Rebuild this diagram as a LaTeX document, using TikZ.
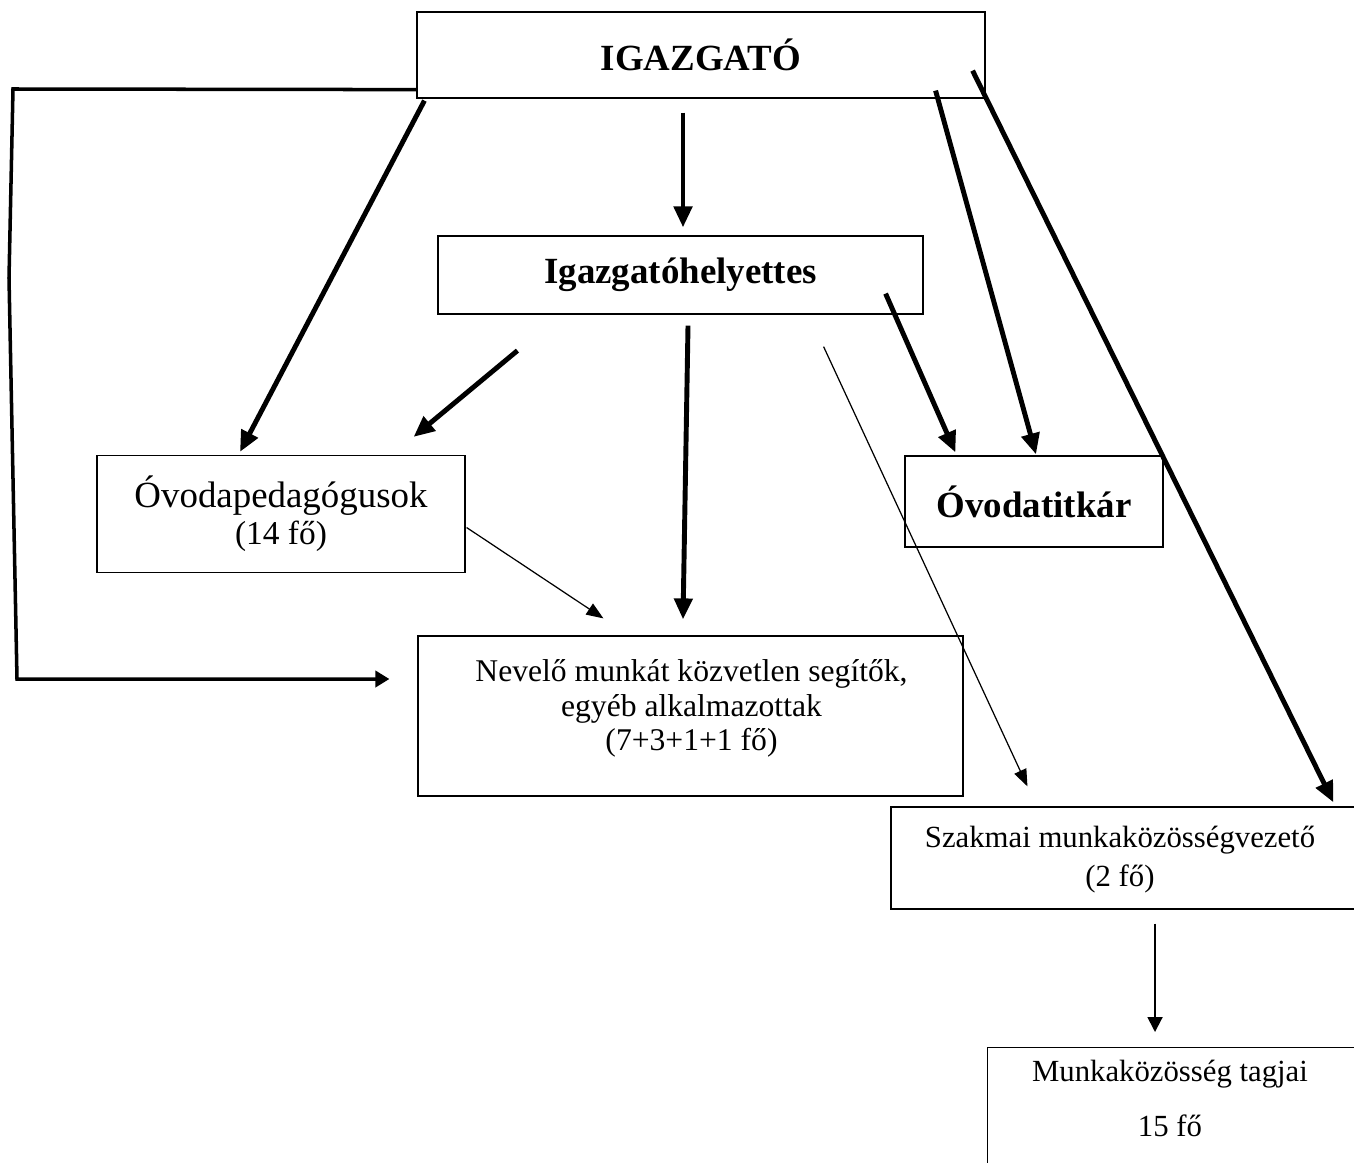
\documentclass[tikz,border=0pt]{standalone}
\usepackage{fontspec}
\setmainfont{Liberation Serif}
\usetikzlibrary{arrows.meta, calc}

\begin{document}
\begin{tikzpicture}[
    x=0.02cm, y=-0.02cm,
    box/.style={draw, line width=0.7pt, inner sep=0pt, align=center},
    boss/.style={font=\fontsize{21}{25}\selectfont\bfseries},
    fat/.style={-{Triangle[length=0.42cm, width=0.36cm]}, line width=2.8pt},
    slim/.style={-{Triangle[length=0.34cm, width=0.26cm]}, line width=0.7pt},
    medarr/.style={-{Triangle[length=0.3cm, width=0.3cm]}, line width=1.1pt},
    bracketarr/.style={-{Triangle[length=0.28cm, width=0.32cm]}, line width=2pt}
  ]
  \useasboundingbox (0,0) rectangle (1354,1162);
  \clip (0,0) rectangle (1354,1162);

  % boxes
  \node[box, boss, minimum width=11.36cm, minimum height=1.72cm] (igazgato) at (701,55) {IGAZGATÓ};
  \node[box, boss, minimum width=9.7cm, minimum height=1.56cm] (helyettes) at (680.5,275) {Igazgatóhelyettes};
  \node[box, minimum width=7.36cm, minimum height=2.34cm, font=\fontsize{21}{21}\selectfont] (ovped) at (281,514)
    {Óvodapedagógusok\\{\fontsize{19}{21}\selectfont(14 fő)}};
  \node[box, boss, minimum width=5.16cm, minimum height=1.82cm] (titkar) at (1034,501.5) {Óvodatitkár};
  \node[box, minimum width=10.9cm, minimum height=3.2cm] (nevelo) at (690.5,716) {};
  \node[anchor=north, align=center, inner sep=0pt, font=\fontsize{18}{19.5}\selectfont] (nevelo-text)
    at ($(nevelo.north)+(1,24)$) {Nevelő munkát közvetlen segítők,\\egyéb alkalmazottak\\(7+3+1+1 fő)};
  \node[box, minimum width=10.58cm, minimum height=2.04cm] (szakmai) at (1155.5,858) {};
  \node[anchor=north, align=center, inner sep=0pt, font=\fontsize{17.5}{22}\selectfont] (szakmai-text)
    at (1120,826) {Szakmai munkaközösségvezető\\(2 fő)};
  \node[box, minimum width=8.52cm, minimum height=3.32cm, anchor=north west] (tagjai) at (987,1047) {};
  \node[anchor=north, align=center, inner sep=0pt, font=\fontsize{17.5}{21}\selectfont] (tagjai-text)
    at (1170,1060) {Munkaközösség tagjai\\[10pt]15 fő};

  % arrows
  \draw[fat] ($(igazgato.south west)+(8,2)$) -- ($(ovped.north)+(-41,-3)$);
  \draw[fat] ($(igazgato.south)+(-18,14)$) -- ($(helyettes.north)+(2.5,-8)$);
  \draw[fat] ($(igazgato.south east)+(-50,-8)$) -- ($(titkar.north)+(2,-1)$);
  \draw[fat] ($(igazgato.south east)+(-13,-28)$) -- ($(szakmai.north west)+(443,-4)$);
  \draw[fat] ($(helyettes.south west)+(80,36)$) -- ($(ovped.north east)+(-52,-18)$);
  \draw[fat] ($(helyettes.south)+(7.5,11)$) -- ($(nevelo.north)+(-7.5,-16)$);
  \draw[fat] ($(helyettes.south east)+(-38,-21)$) -- ($(titkar.north west)+(51,-3)$);
  \draw[slim] ($(helyettes.south east)+(-100,32)$) -- ($(szakmai.north west)+(137,-20)$);
  \draw[slim] ($(ovped.east)+(1,13.5)$) -- ($(nevelo.north west)+(186,-17)$);
  \draw[medarr] ($(szakmai.south)+(-0.5,14)$) -- ($(tagjai.north west)+(168,-15)$);

  % bracket on the left
  \draw[bracketarr] ($(igazgato.south west)+(1,-9)$) -- (13,89) -- (9,278) -- (17,679)
    -- ($(nevelo.west)+(-28,-37)$);
\end{tikzpicture}
\end{document}
